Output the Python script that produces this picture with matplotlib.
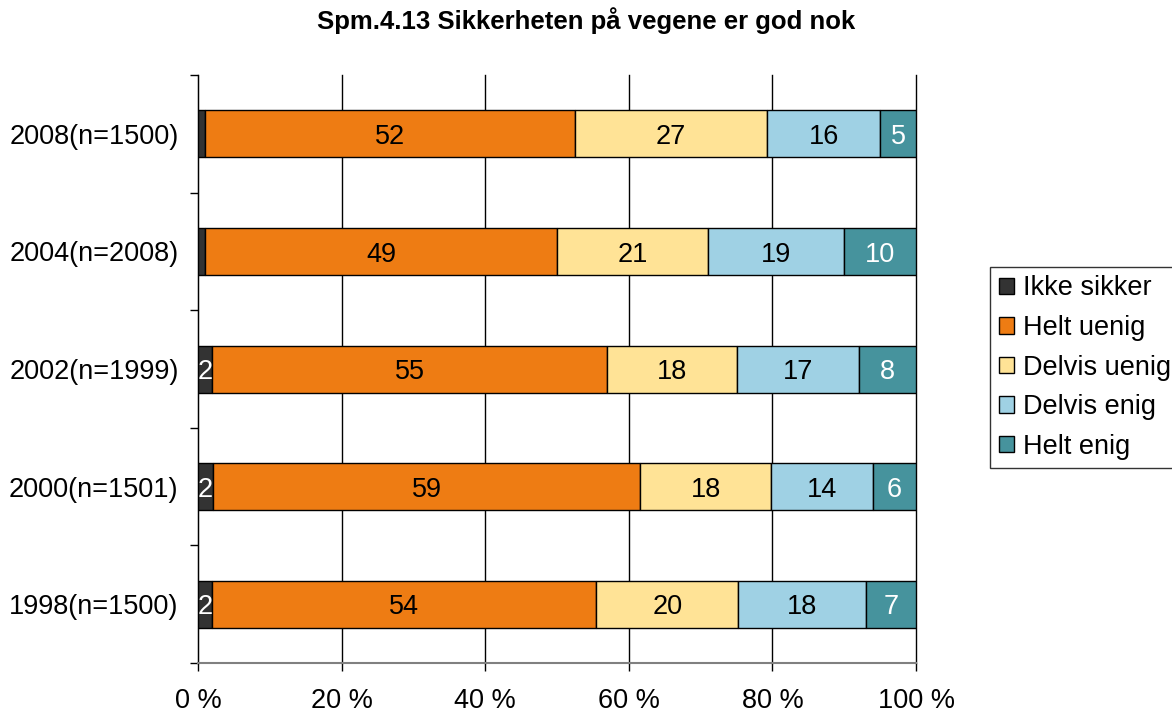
import matplotlib
matplotlib.use("Agg")
import matplotlib.pyplot as plt
import matplotlib.transforms as mtransforms
import numpy as np

plt.rcParams['font.family'] = ['Liberation Sans', 'DejaVu Sans']

years = ["1998(n=1500)", "2000(n=1501)", "2002(n=1999)", "2004(n=2008)", "2008(n=1500)"]
series = ["Ikke sikker", "Helt uenig", "Delvis uenig", "Delvis enig", "Helt enig"]
ikke_sikker = [2, 2, 2, 1, 1]
helt_uenig = [54, 59, 55, 49, 52]
delvis_uenig = [20, 18, 18, 21, 27]
delvis_enig = [18, 14, 17, 19, 16]
helt_enig = [7, 6, 8, 10, 5]

colors = ["#333333", "#EE7C13", "#FFE396", "#9FD1E4", "#46939D"]
text_colors = ["white", "black", "black", "black", "white"]

data = np.array([ikke_sikker, helt_uenig, delvis_uenig, delvis_enig, helt_enig], dtype=float)
totals = data.sum(axis=0)
shares = data / totals * 100

fig = plt.figure(figsize=(11.72, 7.15), dpi=100)
ax = fig.add_axes([0.169, 0.0727, 0.6126, 0.8223])

# value labels sit slightly lower so the digits are centred in the bar
label_tf = mtransforms.offset_copy(ax.transData, fig=fig, x=0, y=-2.2, units="points")

y = np.arange(len(years))
left = np.zeros(len(years))
for i, name in enumerate(series):
    ax.barh(y, shares[i], left=left, height=0.4, color=colors[i],
            edgecolor="black", linewidth=1.0, label=name, zorder=3)
    for j in range(len(years)):
        if data[i, j] >= 2:
            ax.text(left[j] + shares[i, j] / 2, y[j], f"{int(data[i, j])}",
                    ha="center", va="center", fontsize=19.5,
                    color=text_colors[i], zorder=4, transform=label_tf)
    left += shares[i]

ax.set_xlim(0, 100)
ax.set_ylim(-0.5, len(years) - 0.5)
ax.set_xticks(np.arange(0, 101, 20))
ax.set_xticklabels([f"{v} %" for v in range(0, 101, 20)], fontsize=19.5)
ax.xaxis.grid(True, color="black", linewidth=1.0, zorder=0)
for gl in ax.get_xgridlines():
    gl.set_clip_on(False)
ax.set_axisbelow(True)

ax.set_yticks(y)
ax.set_yticklabels(years, fontsize=19.5)
ax.tick_params(axis="y", length=0, pad=14)
ax.set_yticks(np.arange(-0.5, len(years)), minor=True)
ax.tick_params(axis="y", which="minor", length=6, width=1, color="black", direction="out")
ax.tick_params(axis="x", length=6, width=1, color="black", direction="out", pad=12)

for s in ["top", "right"]:
    ax.spines[s].set_visible(False)
ax.spines["left"].set_color("black")
ax.spines["bottom"].set_color("#808080")
ax.spines["bottom"].set_linewidth(1.5)

fig.suptitle("Spm.4.13 Sikkerheten på vegene er god nok", fontsize=18.5,
             fontweight="bold", y=0.99)

handles, labels = ax.get_legend_handles_labels()
leg = fig.legend(handles, labels, loc="center left", bbox_to_anchor=(0.845, 0.486),
                 fontsize=19.5, frameon=True, fancybox=False, edgecolor="black",
                 handlelength=0.55, handleheight=0.55, handletextpad=0.35,
                 labelspacing=0.5, borderpad=0.32, borderaxespad=0)
leg.get_frame().set_linewidth(1.0)

fig.savefig("out.png", dpi=100)
